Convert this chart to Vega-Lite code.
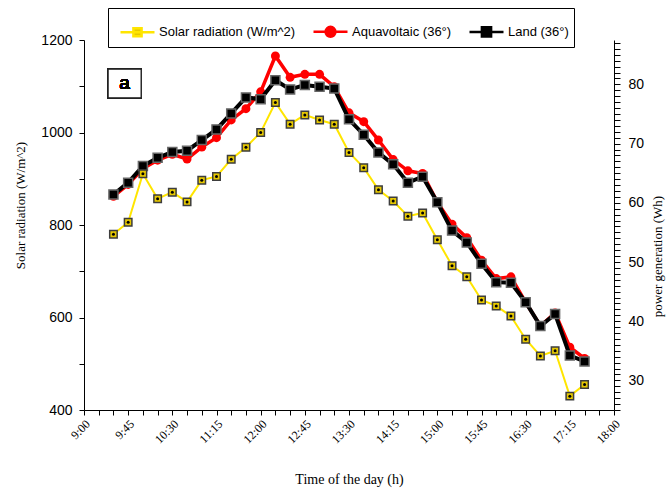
{
  "$schema": "https://vega.github.io/schema/vega-lite/v6.json",
  "width": 530,
  "height": 370,
  "autosize": {"type": "none"},
  "padding": {"left": 84, "top": 40, "right": 56, "bottom": 82},
  "background": "white",
  "config": {
    "view": {"stroke": null},
    "axis": {"domainColor": "black", "tickColor": "black", "labelColor": "black", "titleColor": "black", "grid": false}
  },
  "data": {
    "values": [
      {"t": 9.5, "solar": 780, "aqua": 61.1, "land": 61.4},
      {"t": 9.75, "solar": 806, "aqua": 63.1, "land": 63.4},
      {"t": 10.0, "solar": 911, "aqua": 65.8, "land": 66.2},
      {"t": 10.25, "solar": 857, "aqua": 67.2, "land": 67.6},
      {"t": 10.5, "solar": 871, "aqua": 68.2, "land": 68.6},
      {"t": 10.75, "solar": 850, "aqua": 67.4, "land": 68.8},
      {"t": 11.0, "solar": 897, "aqua": 69.4, "land": 70.6},
      {"t": 11.25, "solar": 905, "aqua": 71.0, "land": 72.4},
      {"t": 11.5, "solar": 942, "aqua": 74.0, "land": 75.1},
      {"t": 11.75, "solar": 968, "aqua": 75.9, "land": 77.8},
      {"t": 12.0, "solar": 1000, "aqua": 78.75, "land": 77.5},
      {"t": 12.25, "solar": 1065, "aqua": 84.8, "land": 80.7},
      {"t": 12.5, "solar": 1018, "aqua": 81.2, "land": 79.15},
      {"t": 12.75, "solar": 1038, "aqua": 81.7, "land": 79.9},
      {"t": 13.0, "solar": 1027, "aqua": 81.7, "land": 79.6},
      {"t": 13.25, "solar": 1018, "aqua": 79.6, "land": 79.3},
      {"t": 13.5, "solar": 957, "aqua": 75.2, "land": 74.1},
      {"t": 13.75, "solar": 924, "aqua": 73.7, "land": 71.5},
      {"t": 14.0, "solar": 876, "aqua": 70.6, "land": 68.5},
      {"t": 14.25, "solar": 852, "aqua": 67.3, "land": 66.5},
      {"t": 14.5, "solar": 819, "aqua": 65.4, "land": 63.4},
      {"t": 14.75, "solar": 826, "aqua": 64.95, "land": 64.4},
      {"t": 15.0, "solar": 768, "aqua": 60.1, "land": 60.1},
      {"t": 15.25, "solar": 712, "aqua": 56.4, "land": 55.3},
      {"t": 15.5, "solar": 688, "aqua": 54.1, "land": 53.3},
      {"t": 15.75, "solar": 638, "aqua": 50.3, "land": 49.7},
      {"t": 16.0, "solar": 625, "aqua": 47.2, "land": 46.6},
      {"t": 16.25, "solar": 603, "aqua": 47.5, "land": 46.5},
      {"t": 16.5, "solar": 553, "aqua": 43.2, "land": 43.2},
      {"t": 16.75, "solar": 517, "aqua": 39.2, "land": 39.2},
      {"t": 17.0, "solar": 528, "aqua": 41.4, "land": 41.2},
      {"t": 17.25, "solar": 430, "aqua": 35.6, "land": 34.2},
      {"t": 17.5, "solar": 455, "aqua": 33.7, "land": 33.2}
    ]
  },
  "layer": [
    {
      "layer": [
        {
          "mark": {"type": "line", "strokeWidth": 3.5},
          "encoding": {
            "x": {"field": "t", "type": "quantitative", "scale": {"domain": [9, 18], "nice": false, "zero": false},
              "axis": {"orient": "bottom", "values": [9,9.25,9.5,9.75,10,10.25,10.5,10.75,11,11.25,11.5,11.75,12,12.25,12.5,12.75,13,13.25,13.5,13.75,14,14.25,14.5,14.75,15,15.25,15.5,15.75,16,16.25,16.5,16.75,17,17.25,17.5,17.75,18], "labelExpr": "(datum.value * 4) % 3 === 0 ? floor(datum.value) + ':' + (datum.value % 1 === 0 ? '00' : '' + round((datum.value % 1) * 60)) : ''", "tickSize": 5, "labelAngle": -45, "labelFont": "Liberation Serif", "labelFontSize": 12, "labelPadding": 3, "labelOverlap": false, "labelFlush": false, "title": "Time of the day (h)", "titleFont": "Liberation Serif", "titleFontSize": 14, "titleFontWeight": "normal", "titleBaseline": "top", "titleY": 62}},
            "y": {"field": "aqua", "type": "quantitative", "scale": {"domain": [25, 87.5], "nice": false, "zero": false},
              "axis": {"orient": "right", "values": [25,26,27,28,29,30,31,32,33,34,35,36,37,38,39,40,41,42,43,44,45,46,47,48,49,50,51,52,53,54,55,56,57,58,59,60,61,62,63,64,65,66,67,68,69,70,71,72,73,74,75,76,77,78,79,80,81,82,83,84,85,86,87], "format": "d", "labelExpr": "datum.value % 10 === 0 ? datum.label : ''", "tickSize": 6, "labelPadding": 8, "labelFont": "Liberation Sans", "labelFontSize": 14, "labelOverlap": false, "labelFlush": false, "title": "power generation (Wh)", "titleFont": "Liberation Serif", "titleFontSize": 13, "titleFontWeight": "normal", "titleAngle": 270, "titleBaseline": "bottom", "titleAlign": "center", "titleX": 50, "titleY": 216}},
            "stroke": {
              "datum": "Aquavoltaic (36°)", "type": "nominal",
              "scale": {"domain": ["Solar radiation (W/m^2)", "Aquavoltaic (36°)", "Land (36°)"], "range": ["#FFE500", "#FF0000", "#000000"]},
              "legend": {"title": " ", "titleOrient": "left", "titlePadding": 6, "titleFontSize": 11, "orient": "none", "legendX": 24, "legendY": -32, "direction": "horizontal", "symbolSize": 1156, "symbolStrokeWidth": 2.5, "symbolOpacity": 1, "labelFont": "Liberation Sans", "labelFontSize": 13, "labelColor": "black", "labelOffset": 3, "labelLimit": 400, "columnPadding": 12, "padding": 5, "strokeColor": "black"}
            }
          }
        },
        {
          "mark": {"type": "point", "shape": "circle", "filled": true, "fill": "#FF0000", "size": 80, "opacity": 1},
          "encoding": {
            "x": {"field": "t", "type": "quantitative", "scale": {"domain": [9, 18], "nice": false, "zero": false},
              "axis": {"orient": "bottom", "values": [9,9.25,9.5,9.75,10,10.25,10.5,10.75,11,11.25,11.5,11.75,12,12.25,12.5,12.75,13,13.25,13.5,13.75,14,14.25,14.5,14.75,15,15.25,15.5,15.75,16,16.25,16.5,16.75,17,17.25,17.5,17.75,18], "labelExpr": "(datum.value * 4) % 3 === 0 ? floor(datum.value) + ':' + (datum.value % 1 === 0 ? '00' : '' + round((datum.value % 1) * 60)) : ''", "tickSize": 5, "labelAngle": -45, "labelFont": "Liberation Serif", "labelFontSize": 12, "labelPadding": 3, "labelOverlap": false, "labelFlush": false, "title": "Time of the day (h)", "titleFont": "Liberation Serif", "titleFontSize": 14, "titleFontWeight": "normal", "titleBaseline": "top", "titleY": 62}},
            "y": {"field": "aqua", "type": "quantitative", "scale": {"domain": [25, 87.5], "nice": false, "zero": false},
              "axis": {"orient": "right", "values": [25,26,27,28,29,30,31,32,33,34,35,36,37,38,39,40,41,42,43,44,45,46,47,48,49,50,51,52,53,54,55,56,57,58,59,60,61,62,63,64,65,66,67,68,69,70,71,72,73,74,75,76,77,78,79,80,81,82,83,84,85,86,87], "format": "d", "labelExpr": "datum.value % 10 === 0 ? datum.label : ''", "tickSize": 6, "labelPadding": 8, "labelFont": "Liberation Sans", "labelFontSize": 14, "labelOverlap": false, "labelFlush": false, "title": "power generation (Wh)", "titleFont": "Liberation Serif", "titleFontSize": 13, "titleFontWeight": "normal", "titleAngle": 270, "titleBaseline": "bottom", "titleAlign": "center", "titleX": 50, "titleY": 216}}
          }
        },
        {
          "mark": {"type": "line", "strokeWidth": 4},
          "encoding": {
            "x": {"field": "t", "type": "quantitative", "scale": {"domain": [9, 18], "nice": false, "zero": false},
              "axis": {"orient": "bottom", "values": [9,9.25,9.5,9.75,10,10.25,10.5,10.75,11,11.25,11.5,11.75,12,12.25,12.5,12.75,13,13.25,13.5,13.75,14,14.25,14.5,14.75,15,15.25,15.5,15.75,16,16.25,16.5,16.75,17,17.25,17.5,17.75,18], "labelExpr": "(datum.value * 4) % 3 === 0 ? floor(datum.value) + ':' + (datum.value % 1 === 0 ? '00' : '' + round((datum.value % 1) * 60)) : ''", "tickSize": 5, "labelAngle": -45, "labelFont": "Liberation Serif", "labelFontSize": 12, "labelPadding": 3, "labelOverlap": false, "labelFlush": false, "title": "Time of the day (h)", "titleFont": "Liberation Serif", "titleFontSize": 14, "titleFontWeight": "normal", "titleBaseline": "top", "titleY": 62}},
            "y": {"field": "land", "type": "quantitative", "scale": {"domain": [25, 87.5], "nice": false, "zero": false},
              "axis": {"orient": "right", "values": [25,26,27,28,29,30,31,32,33,34,35,36,37,38,39,40,41,42,43,44,45,46,47,48,49,50,51,52,53,54,55,56,57,58,59,60,61,62,63,64,65,66,67,68,69,70,71,72,73,74,75,76,77,78,79,80,81,82,83,84,85,86,87], "format": "d", "labelExpr": "datum.value % 10 === 0 ? datum.label : ''", "tickSize": 6, "labelPadding": 8, "labelFont": "Liberation Sans", "labelFontSize": 14, "labelOverlap": false, "labelFlush": false, "title": "power generation (Wh)", "titleFont": "Liberation Serif", "titleFontSize": 13, "titleFontWeight": "normal", "titleAngle": 270, "titleBaseline": "bottom", "titleAlign": "center", "titleX": 50, "titleY": 216}},
            "stroke": {"datum": "Land (36°)", "type": "nominal"}
          }
        },
        {
          "mark": {"type": "point", "shape": "square", "filled": true, "fill": "#000000", "stroke": "#666666", "strokeWidth": 1.5, "size": 81, "opacity": 1},
          "encoding": {
            "x": {"field": "t", "type": "quantitative", "scale": {"domain": [9, 18], "nice": false, "zero": false},
              "axis": {"orient": "bottom", "values": [9,9.25,9.5,9.75,10,10.25,10.5,10.75,11,11.25,11.5,11.75,12,12.25,12.5,12.75,13,13.25,13.5,13.75,14,14.25,14.5,14.75,15,15.25,15.5,15.75,16,16.25,16.5,16.75,17,17.25,17.5,17.75,18], "labelExpr": "(datum.value * 4) % 3 === 0 ? floor(datum.value) + ':' + (datum.value % 1 === 0 ? '00' : '' + round((datum.value % 1) * 60)) : ''", "tickSize": 5, "labelAngle": -45, "labelFont": "Liberation Serif", "labelFontSize": 12, "labelPadding": 3, "labelOverlap": false, "labelFlush": false, "title": "Time of the day (h)", "titleFont": "Liberation Serif", "titleFontSize": 14, "titleFontWeight": "normal", "titleBaseline": "top", "titleY": 62}},
            "y": {"field": "land", "type": "quantitative", "scale": {"domain": [25, 87.5], "nice": false, "zero": false},
              "axis": {"orient": "right", "values": [25,26,27,28,29,30,31,32,33,34,35,36,37,38,39,40,41,42,43,44,45,46,47,48,49,50,51,52,53,54,55,56,57,58,59,60,61,62,63,64,65,66,67,68,69,70,71,72,73,74,75,76,77,78,79,80,81,82,83,84,85,86,87], "format": "d", "labelExpr": "datum.value % 10 === 0 ? datum.label : ''", "tickSize": 6, "labelPadding": 8, "labelFont": "Liberation Sans", "labelFontSize": 14, "labelOverlap": false, "labelFlush": false, "title": "power generation (Wh)", "titleFont": "Liberation Serif", "titleFontSize": 13, "titleFontWeight": "normal", "titleAngle": 270, "titleBaseline": "bottom", "titleAlign": "center", "titleX": 50, "titleY": 216}}
          }
        }
      ]
    },
    {
      "layer": [
        {
          "mark": {"type": "line", "strokeWidth": 2},
          "encoding": {
            "x": {"field": "t", "type": "quantitative", "scale": {"domain": [9, 18], "nice": false, "zero": false},
              "axis": {"orient": "bottom", "values": [9,9.25,9.5,9.75,10,10.25,10.5,10.75,11,11.25,11.5,11.75,12,12.25,12.5,12.75,13,13.25,13.5,13.75,14,14.25,14.5,14.75,15,15.25,15.5,15.75,16,16.25,16.5,16.75,17,17.25,17.5,17.75,18], "labelExpr": "(datum.value * 4) % 3 === 0 ? floor(datum.value) + ':' + (datum.value % 1 === 0 ? '00' : '' + round((datum.value % 1) * 60)) : ''", "tickSize": 5, "labelAngle": -45, "labelFont": "Liberation Serif", "labelFontSize": 12, "labelPadding": 3, "labelOverlap": false, "labelFlush": false, "title": "Time of the day (h)", "titleFont": "Liberation Serif", "titleFontSize": 14, "titleFontWeight": "normal", "titleBaseline": "top", "titleY": 62}},
            "y": {"field": "solar", "type": "quantitative", "scale": {"domain": [400, 1200], "nice": false, "zero": false},
              "axis": {"orient": "left", "values": [400, 500, 600, 700, 800, 900, 1000, 1100, 1200], "format": "d", "labelExpr": "datum.value % 200 === 0 ? datum.label : ''", "tickSize": 5, "labelPadding": 7, "labelFont": "Liberation Sans", "labelFontSize": 14, "labelOverlap": false, "labelFlush": false, "title": "Solar radiation (W/m^2)", "titleFont": "Liberation Serif", "titleFontSize": 13, "titleFontWeight": "normal", "titleAngle": 270, "titleBaseline": "bottom", "titleAlign": "center", "titleX": -57, "titleY": 165}},
            "stroke": {"datum": "Solar radiation (W/m^2)", "type": "nominal"}
          }
        },
        {
          "mark": {"type": "point", "shape": "square", "filled": true, "fill": "#E6C800", "stroke": "#3d3d3d", "strokeWidth": 1.5, "size": 56, "opacity": 1},
          "encoding": {
            "x": {"field": "t", "type": "quantitative", "scale": {"domain": [9, 18], "nice": false, "zero": false},
              "axis": {"orient": "bottom", "values": [9,9.25,9.5,9.75,10,10.25,10.5,10.75,11,11.25,11.5,11.75,12,12.25,12.5,12.75,13,13.25,13.5,13.75,14,14.25,14.5,14.75,15,15.25,15.5,15.75,16,16.25,16.5,16.75,17,17.25,17.5,17.75,18], "labelExpr": "(datum.value * 4) % 3 === 0 ? floor(datum.value) + ':' + (datum.value % 1 === 0 ? '00' : '' + round((datum.value % 1) * 60)) : ''", "tickSize": 5, "labelAngle": -45, "labelFont": "Liberation Serif", "labelFontSize": 12, "labelPadding": 3, "labelOverlap": false, "labelFlush": false, "title": "Time of the day (h)", "titleFont": "Liberation Serif", "titleFontSize": 14, "titleFontWeight": "normal", "titleBaseline": "top", "titleY": 62}},
            "y": {"field": "solar", "type": "quantitative", "scale": {"domain": [400, 1200], "nice": false, "zero": false},
              "axis": {"orient": "left", "values": [400, 500, 600, 700, 800, 900, 1000, 1100, 1200], "format": "d", "labelExpr": "datum.value % 200 === 0 ? datum.label : ''", "tickSize": 5, "labelPadding": 7, "labelFont": "Liberation Sans", "labelFontSize": 14, "labelOverlap": false, "labelFlush": false, "title": "Solar radiation (W/m^2)", "titleFont": "Liberation Serif", "titleFontSize": 13, "titleFontWeight": "normal", "titleAngle": 270, "titleBaseline": "bottom", "titleAlign": "center", "titleX": -57, "titleY": 165}}
          }
        },
        {
          "mark": {"type": "point", "shape": "circle", "filled": true, "fill": "#000000", "size": 9, "opacity": 1},
          "encoding": {
            "x": {"field": "t", "type": "quantitative", "scale": {"domain": [9, 18], "nice": false, "zero": false},
              "axis": {"orient": "bottom", "values": [9,9.25,9.5,9.75,10,10.25,10.5,10.75,11,11.25,11.5,11.75,12,12.25,12.5,12.75,13,13.25,13.5,13.75,14,14.25,14.5,14.75,15,15.25,15.5,15.75,16,16.25,16.5,16.75,17,17.25,17.5,17.75,18], "labelExpr": "(datum.value * 4) % 3 === 0 ? floor(datum.value) + ':' + (datum.value % 1 === 0 ? '00' : '' + round((datum.value % 1) * 60)) : ''", "tickSize": 5, "labelAngle": -45, "labelFont": "Liberation Serif", "labelFontSize": 12, "labelPadding": 3, "labelOverlap": false, "labelFlush": false, "title": "Time of the day (h)", "titleFont": "Liberation Serif", "titleFontSize": 14, "titleFontWeight": "normal", "titleBaseline": "top", "titleY": 62}},
            "y": {"field": "solar", "type": "quantitative", "scale": {"domain": [400, 1200], "nice": false, "zero": false},
              "axis": {"orient": "left", "values": [400, 500, 600, 700, 800, 900, 1000, 1100, 1200], "format": "d", "labelExpr": "datum.value % 200 === 0 ? datum.label : ''", "tickSize": 5, "labelPadding": 7, "labelFont": "Liberation Sans", "labelFontSize": 14, "labelOverlap": false, "labelFlush": false, "title": "Solar radiation (W/m^2)", "titleFont": "Liberation Serif", "titleFontSize": 13, "titleFontWeight": "normal", "titleAngle": 270, "titleBaseline": "bottom", "titleAlign": "center", "titleX": -57, "titleY": 165}}
          }
        },
        {
          "mark": {"type": "point", "filled": true, "opacity": 0, "size": 10},
          "encoding": {
            "shape": {
              "datum": "Solar radiation (W/m^2)", "type": "nominal",
              "scale": {"domain": ["Solar radiation (W/m^2)", "Aquavoltaic (36°)", "Land (36°)"], "range": ["M-1,0H1M-0.24,-0.24H0.24V0.24H-0.24Z", "M-1,0H1M0.29,0A0.29,0.29,0,1,1,-0.29,0A0.29,0.29,0,1,1,0.29,0Z", "M-1,0H1M-0.27,-0.27H0.27V0.27H-0.27Z"]}
            },
            "fill": {
              "datum": "Solar radiation (W/m^2)", "type": "nominal",
              "scale": {"domain": ["Solar radiation (W/m^2)", "Aquavoltaic (36°)", "Land (36°)"], "range": ["#E6C800", "#FF0000", "#000000"]}
            }
          }
        },
        {
          "mark": {"type": "rect", "fill": "white", "stroke": "#222222", "strokeWidth": 1.2},
          "encoding": {
            "x": {"datum": 9.41, "type": "quantitative", "scale": {"domain": [9, 18], "nice": false, "zero": false},
              "axis": {"orient": "bottom", "values": [9,9.25,9.5,9.75,10,10.25,10.5,10.75,11,11.25,11.5,11.75,12,12.25,12.5,12.75,13,13.25,13.5,13.75,14,14.25,14.5,14.75,15,15.25,15.5,15.75,16,16.25,16.5,16.75,17,17.25,17.5,17.75,18], "labelExpr": "(datum.value * 4) % 3 === 0 ? floor(datum.value) + ':' + (datum.value % 1 === 0 ? '00' : '' + round((datum.value % 1) * 60)) : ''", "tickSize": 5, "labelAngle": -45, "labelFont": "Liberation Serif", "labelFontSize": 12, "labelPadding": 3, "labelOverlap": false, "labelFlush": false, "title": "Time of the day (h)", "titleFont": "Liberation Serif", "titleFontSize": 14, "titleFontWeight": "normal", "titleBaseline": "top", "titleY": 62}},
            "x2": {"datum": 9.97},
            "y": {"datum": 1137, "type": "quantitative", "scale": {"domain": [400, 1200], "nice": false, "zero": false},
              "axis": {"orient": "left", "values": [400, 500, 600, 700, 800, 900, 1000, 1100, 1200], "format": "d", "labelExpr": "datum.value % 200 === 0 ? datum.label : ''", "tickSize": 5, "labelPadding": 7, "labelFont": "Liberation Sans", "labelFontSize": 14, "labelOverlap": false, "labelFlush": false, "title": "Solar radiation (W/m^2)", "titleFont": "Liberation Serif", "titleFontSize": 13, "titleFontWeight": "normal", "titleAngle": 270, "titleBaseline": "bottom", "titleAlign": "center", "titleX": -57, "titleY": 165}},
            "y2": {"datum": 1075}
          }
        },
        {
          "mark": {"type": "text", "text": "a", "font": "Liberation Sans", "fontSize": 19, "fontWeight": "normal", "fill": "black", "align": "center", "baseline": "middle"},
          "encoding": {
            "x": {"datum": 9.69, "type": "quantitative", "scale": {"domain": [9, 18], "nice": false, "zero": false},
              "axis": {"orient": "bottom", "values": [9,9.25,9.5,9.75,10,10.25,10.5,10.75,11,11.25,11.5,11.75,12,12.25,12.5,12.75,13,13.25,13.5,13.75,14,14.25,14.5,14.75,15,15.25,15.5,15.75,16,16.25,16.5,16.75,17,17.25,17.5,17.75,18], "labelExpr": "(datum.value * 4) % 3 === 0 ? floor(datum.value) + ':' + (datum.value % 1 === 0 ? '00' : '' + round((datum.value % 1) * 60)) : ''", "tickSize": 5, "labelAngle": -45, "labelFont": "Liberation Serif", "labelFontSize": 12, "labelPadding": 3, "labelOverlap": false, "labelFlush": false, "title": "Time of the day (h)", "titleFont": "Liberation Serif", "titleFontSize": 14, "titleFontWeight": "normal", "titleBaseline": "top", "titleY": 62}},
            "y": {"datum": 1107, "type": "quantitative", "scale": {"domain": [400, 1200], "nice": false, "zero": false},
              "axis": {"orient": "left", "values": [400, 500, 600, 700, 800, 900, 1000, 1100, 1200], "format": "d", "labelExpr": "datum.value % 200 === 0 ? datum.label : ''", "tickSize": 5, "labelPadding": 7, "labelFont": "Liberation Sans", "labelFontSize": 14, "labelOverlap": false, "labelFlush": false, "title": "Solar radiation (W/m^2)", "titleFont": "Liberation Serif", "titleFontSize": 13, "titleFontWeight": "normal", "titleAngle": 270, "titleBaseline": "bottom", "titleAlign": "center", "titleX": -57, "titleY": 165}}
          }
        }
      ]
    }
  ],
  "resolve": {"scale": {"y": "independent"}}
}
